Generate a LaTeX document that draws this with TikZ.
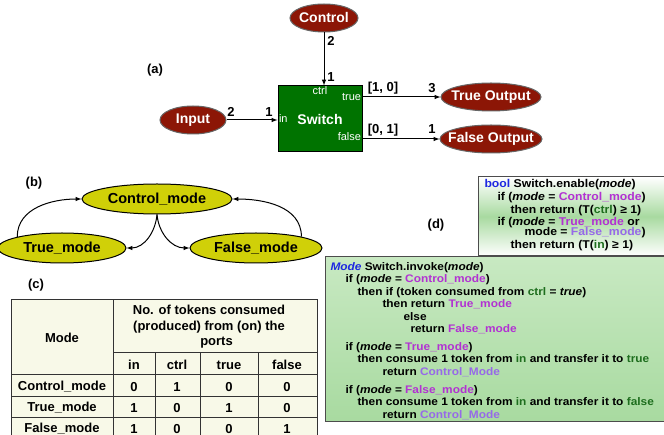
\documentclass[tikz,border=0pt]{standalone}
\usepackage{fontspec}
\setmainfont{Liberation Sans}
\newfontfamily\codefont[FakeStretch=1.08]{Liberation Sans}
\usetikzlibrary{positioning}
\usetikzlibrary{calc,shapes.geometric}

\definecolor{actorred}{RGB}{140,22,6}
\definecolor{switchgreen}{RGB}{0,115,0}
\definecolor{modeyellow}{RGB}{208,208,8}
\definecolor{tablecream}{RGB}{248,249,232}
\definecolor{kwblue}{RGB}{30,40,225}
\definecolor{modepurple}{RGB}{178,50,210}
\definecolor{modelilac}{RGB}{150,105,232}
\definecolor{portgreen}{RGB}{30,110,30}
\definecolor{codegreen}{RGB}{168,218,160}
\definecolor{codelight}{RGB}{200,233,194}

\newcommand{\modename}[1]{{\color{modepurple}#1}}
\newcommand{\retname}[1]{{\color{modelilac}#1}}
\newcommand{\portname}[1]{{\color{portgreen}#1}}

\begin{document}
\begin{tikzpicture}[x=1pt, y=-1pt, line width=1pt,
    actor/.style={ellipse, draw=black!60, fill=actorred, inner sep=0pt, minimum height=28pt},
    actortext/.style={text=white, inner sep=0pt, font=\fontsize{14}{16}\bfseries\selectfont},
    modenode/.style={ellipse, draw=black, fill=modeyellow, inner sep=0pt,
      minimum height=30pt, font=\fontsize{14.5}{16}\bfseries\selectfont},
    port/.style={text=white, inner sep=1pt, font=\fontsize{11}{13}\selectfont},
    num/.style={inner sep=1pt, font=\fontsize{13}{15}\bfseries\selectfont},
    cell/.style={inner sep=0pt, font=\fontsize{13}{15.5}\bfseries\selectfont},
    code/.style={inner sep=0pt, align=left, font=\codefont\fontsize{11.3}{12.5}\bfseries\selectfont}]
  \useasboundingbox (0,0) rectangle (664,435);

  % (a)
  \node[num] (la) at (155,70) {(a)};
  \node[actor, minimum width=68pt, label={[actortext]center:Control}] (control) at (324,18) {};
  \node[draw=black, fill=switchgreen, text=white, minimum width=84pt, minimum height=66pt,
    font=\fontsize{14}{16}\bfseries\selectfont] (switch) at (320,119) {Switch};
  \node[actor, minimum width=66pt, label={[actortext]center:Input}] (input) at (193,120) {};
  \node[actor, minimum width=100pt, label={[actortext]center:True Output}] (trueout) at (491,97) {};
  \node[actor, minimum width=102pt, label={[actortext]center:False Output}] (falseout) at (491,139) {};

  \node[port, below=0pt of switch.north] (pctrl) {ctrl};
  \node[port, anchor=east] (ptrue) at (switch.east |- trueout.west) {true};
  \node[port, anchor=east] (pfalse) at ($(switch.east |- falseout.west)+(0,-2)$) {false};
  \node[port, anchor=west] (pin) at (switch.west) {in};

  \draw[-latex] (control.south) -- (control.south |- switch.north);
  \draw[-latex] (input.east) -- (input.east -| switch.west);
  \draw[-latex] (switch.east |- trueout.west) -- (trueout.west);
  \draw[-latex] (switch.east |- falseout.west) -- (falseout.west);

  \node[num] (nc2) at (331,41) {2};
  \node[num] (nc1) at (331,77) {1};
  \node[num] (ni2) at (231,112) {2};
  \node[num] (ni1) at (269,112) {1};
  \node[num] (nt1) at (383,88) {[1, 0]};
  \node[num] (nt3) at (432,88) {3};
  \node[num] (nf1) at (383,130) {[0, 1]};
  \node[num] (nf3) at (432,129) {1};

  % (b)
  \node[num] (lb) at (34,183) {(b)};
  \node[modenode, minimum width=150pt] (cm) at (157,199) {Control\_mode};
  \node[modenode, minimum width=128pt] (tm) at (62,248) {True\_mode};
  \node[modenode, minimum width=132pt] (fm) at (256,248) {False\_mode};

  \draw[-latex] (tm.166) to[out=90, in=180] (cm.west);
  \draw[-latex] (cm.south) to[out=-95, in=0] (tm.east);
  \draw[-latex] (cm.south) to[out=-85, in=180] (fm.west);
  \draw[-latex] (fm.14) to[out=90, in=0] (cm.east);

  % (c)
  \node[num] (lc) at (36,285) {(c)};
  \fill[tablecream] (11,300) rectangle (317,445);
  \draw[black!80] (11,300) rectangle (317,445);
  \draw[black!80] (113,300) -- (113,445);
  \draw[black!80] (113,353) -- (317,353);
  \foreach \y in {375,397,418}
    \draw[black!80] (11,\y) -- (317,\y);
  \foreach \x in {155,200,258}
    \draw[black!80] (\x,353) -- (\x,445);

  \node[cell] (hmode) at (62,338) {Mode};
  \node[cell, align=center] (hports) at (209,327) {No. of tokens consumed\\(produced) from (on) the\\\hspace*{15pt}ports};
  \node[cell] (hin) at (134,365) {in};
  \node[cell] (hctrl) at (177,365) {ctrl};
  \node[cell] (htrue) at (229,365) {true};
  \node[cell] (hfalse) at (287,365) {false};

  \node[cell] (r1) at (62,387) {Control\_mode};
  \node[cell] (r2) at (62,408) {True\_mode};
  \node[cell] (r3) at (62,429) {False\_mode};
  \foreach \a/\b/\c/\d [count=\i] in {0/1/0/0, 1/0/1/0, 1/0/0/1} {
    \node[cell] at (134,366+21*\i) {\a};
    \node[cell] at (177,366+21*\i) {\b};
    \node[cell] at (229,366+21*\i) {\c};
    \node[cell] at (287,366+21*\i) {\d};
  }

  % (d)
  \node[num] (ld) at (436,225) {(d)};
  \draw[black!70, top color=white, bottom color=white, middle color=codegreen]
    (478,177) rectangle (672,256);
  \node[code, anchor=north west] (enable) at (484,179) {%
    {\color{kwblue}bool} Switch.enable(\textit{mode})\\[0.6pt]
    \hspace*{13pt}if (\textit{mode} = \modename{Control\_mode})\\[0.6pt]
    \hspace*{26pt}then return (T(\portname{ctrl}) ≥ 1)\\[-1pt]
    \hspace*{13pt}if (\textit{mode} = \modename{True\_mode} or\\[-2.5pt]
    \hspace*{40pt}mode = \retname{False\_mode})\\[1pt]
    \hspace*{26pt}then return (T(\portname{in}) ≥ 1)};

  \draw[black!70, top color=codelight, bottom color=codegreen]
    (325,257) rectangle (672,422);
  \node[code, font=\codefont\fontsize{11}{12.5}\bfseries\selectfont, anchor=north west] (invoke) at (330,262) {%
    {\color{kwblue}\textit{Mode}} Switch.invoke(\textit{mode})\\
    \hspace*{15pt}if (\textit{mode} = \modename{Control\_mode})\\
    \hspace*{27pt}then if (token consumed from \portname{ctrl} = \textit{true})\\
    \hspace*{52pt}then return \modename{True\_mode}\\
    \hspace*{73pt}else\\
    \hspace*{80pt}return \modename{False\_mode}\\[5pt]
    \hspace*{15pt}if (\textit{mode} = \modename{True\_mode})\\
    \hspace*{27pt}then consume 1 token from \portname{in} and transfer it to \portname{true}\\
    \hspace*{52pt}return \retname{Control\_Mode}\\[5.5pt]
    \hspace*{15pt}if (\textit{mode} = \modename{False\_mode})\\
    \hspace*{27pt}then consume 1 token from \portname{in} and transfer it to \portname{false}\\
    \hspace*{52pt}return \retname{Control\_Mode}};
\end{tikzpicture}
\end{document}
